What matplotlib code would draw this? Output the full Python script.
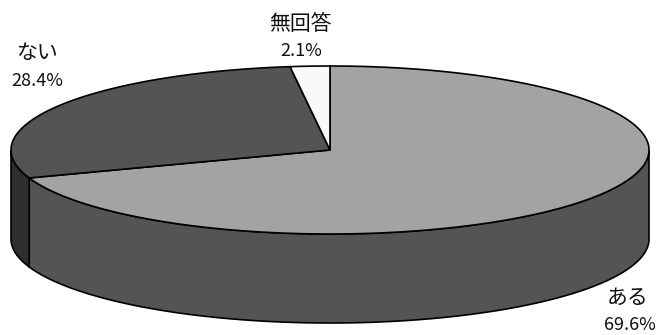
import numpy as np
import matplotlib
matplotlib.use('Agg')
import matplotlib.pyplot as plt

plt.rcParams['font.family'] = ['Noto Sans CJK JP', 'DejaVu Sans']

labels = ['ある', 'ない', '無回答']
percents = ['69.6%', '28.4%', '2.1%']
values = [69.6, 28.4, 2.1]
top_colors = ['#a3a3a3', '#545454', '#f9f9f9']
side_colors = ['#545454', '#2e2e2e', '#e0e0e0']

W, H = 656, 335
CX, CY = 330, 150
RX, RY = 319, 84
DEPTH = 89

# label centres, pixels
label_pos = [(628, 298), (37, 53), (300, 24)]
percent_pos = [(630, 325), (37, 81), (301, 51)]


def rim(t):
    # t in degrees, clockwise from 12 o'clock
    r = np.radians(t)
    return CX + RX * np.sin(r), CY - RY * np.cos(r)


fig = plt.figure(figsize=(W / 100, H / 100), dpi=100)
ax = fig.add_axes([0, 0, 1, 1])
ax.set_xlim(0, W)
ax.set_ylim(H, 0)
ax.axis('off')

# rounded percents add up to 100.1, so clip the last slice at the full circle
edges = np.minimum(np.cumsum([0] + values) * 3.6, 360)

# side walls, only the front half is visible
for i in range(len(values)):
    a, b = max(edges[i], 90), min(edges[i + 1], 270)
    if a >= b:
        continue
    x, y = rim(np.linspace(a, b, 200))
    ax.fill(np.r_[x, x[::-1]], np.r_[y, y[::-1] + DEPTH],
            facecolor=side_colors[i], edgecolor='black', lw=1.2, zorder=2)

# top faces
for i in range(len(values)):
    x, y = rim(np.linspace(edges[i], edges[i + 1], 300))
    ax.fill(np.r_[CX, x], np.r_[CY, y], facecolor=top_colors[i],
            edgecolor='black', lw=1.2, zorder=3)

for i in range(len(labels)):
    ax.text(*label_pos[i], labels[i], ha='center', va='center', fontsize=15, color='#111111')
    ax.text(*percent_pos[i], percents[i], ha='center', va='center', fontsize=13, color='#111111')

fig.savefig('out.png', dpi=100)
